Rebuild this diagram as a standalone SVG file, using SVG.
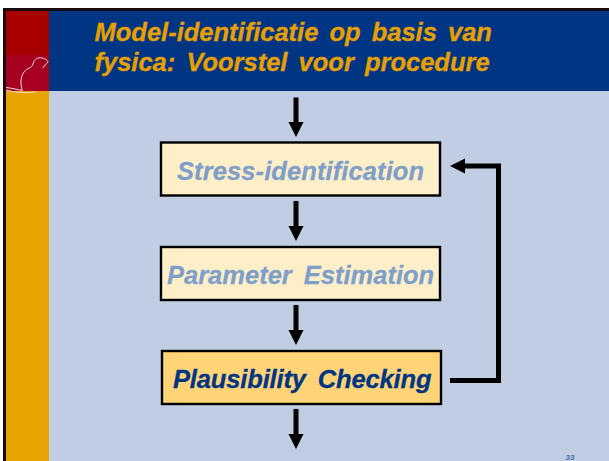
<svg xmlns="http://www.w3.org/2000/svg" width="609" height="461" viewBox="0 0 609 461">
<style>
.t{font-family:"Liberation Sans",Arial,sans-serif;font-weight:bold;font-style:italic}
.title{font-size:25.500px;fill:#e8a000;stroke:#e8a000;stroke-width:.3;word-spacing:4px}
.box{stroke:#000;stroke-width:2.4}
.lab{font-size:25.500px;stroke-width:.3;word-spacing:5px}
.conn{fill:none;stroke:#000;stroke-width:5}
</style>
<defs>
<marker id="ah" markerUnits="userSpaceOnUse" markerWidth="16" markerHeight="16" refX="0" refY="7.5" orient="auto"><path d="M0 0L15 7.500L0 15Z" fill="#000"/></marker>
</defs>
<rect width="609" height="461" fill="#fff"/>
<rect x="3" y="8" width="606" height="453" fill="#1a0c0c"/>
<rect id="bg" x="6" y="11" width="603" height="450" fill="#c0cde2"/>
<rect x="6" y="91" width="43" height="370" fill="#e8a400"/>
<rect x="49" y="11" width="560" height="80" fill="#003584"/>
<rect x="6" y="11" width="43" height="44" fill="#a80000"/>
<rect x="6" y="55" width="43" height="36" fill="#a80020"/>
<path d="M6 87.500C12 88 18 90 23 90.500M6 90C14 92 24 94 36 91.500M22 90C20 82 21 76 24 72C27 68 32 68 33 64C34 59 38 57 42 58C46 59 48 61 48 62C46 64 44 66 43 68" fill="none" stroke="#f0dfe0" stroke-width="1"/>
<g id="title">
<text class="t title" x="94.500" y="41">Model-identificatie op basis van</text>
<text class="t title" x="94.500" y="71">fysica: Voorstel voor procedure</text>
</g>
<g id="connectors">
<path class="conn" d="M296 97.500V122" marker-end="url(#ah)"/>
<path class="conn" d="M296 201V226" marker-end="url(#ah)"/>
<path class="conn" d="M296 305V330" marker-end="url(#ah)"/>
<path class="conn" d="M296 409V434" marker-end="url(#ah)"/>
<path class="conn" d="M450 380.500H498.500V166H465" marker-end="url(#ah)"/>
</g>
<g id="stress">
<rect class="box" x="161" y="142.500" width="279" height="53" fill="#ffefc8"/>
<text class="t lab" x="177" y="180" fill="#7f9fcb" stroke="#7f9fcb" letter-spacing=".1">Stress-identification</text>
</g>
<g id="parameter">
<rect class="box" x="161" y="247" width="279" height="53" fill="#ffefc8"/>
<text class="t lab" x="167" y="284" fill="#7f9fcb" stroke="#7f9fcb">Parameter Estimation</text>
</g>
<g id="plausibility">
<rect class="box" x="162" y="351" width="279" height="53" fill="#ffd477"/>
<text class="t lab" x="173" y="388" fill="#003584" stroke="#003584" letter-spacing="-.15" word-spacing="3">Plausibility Checking</text>
</g>
<text class="t" x="570" y="460" font-size="8" text-anchor="middle" fill="#4a70b0">33</text>
</svg>
